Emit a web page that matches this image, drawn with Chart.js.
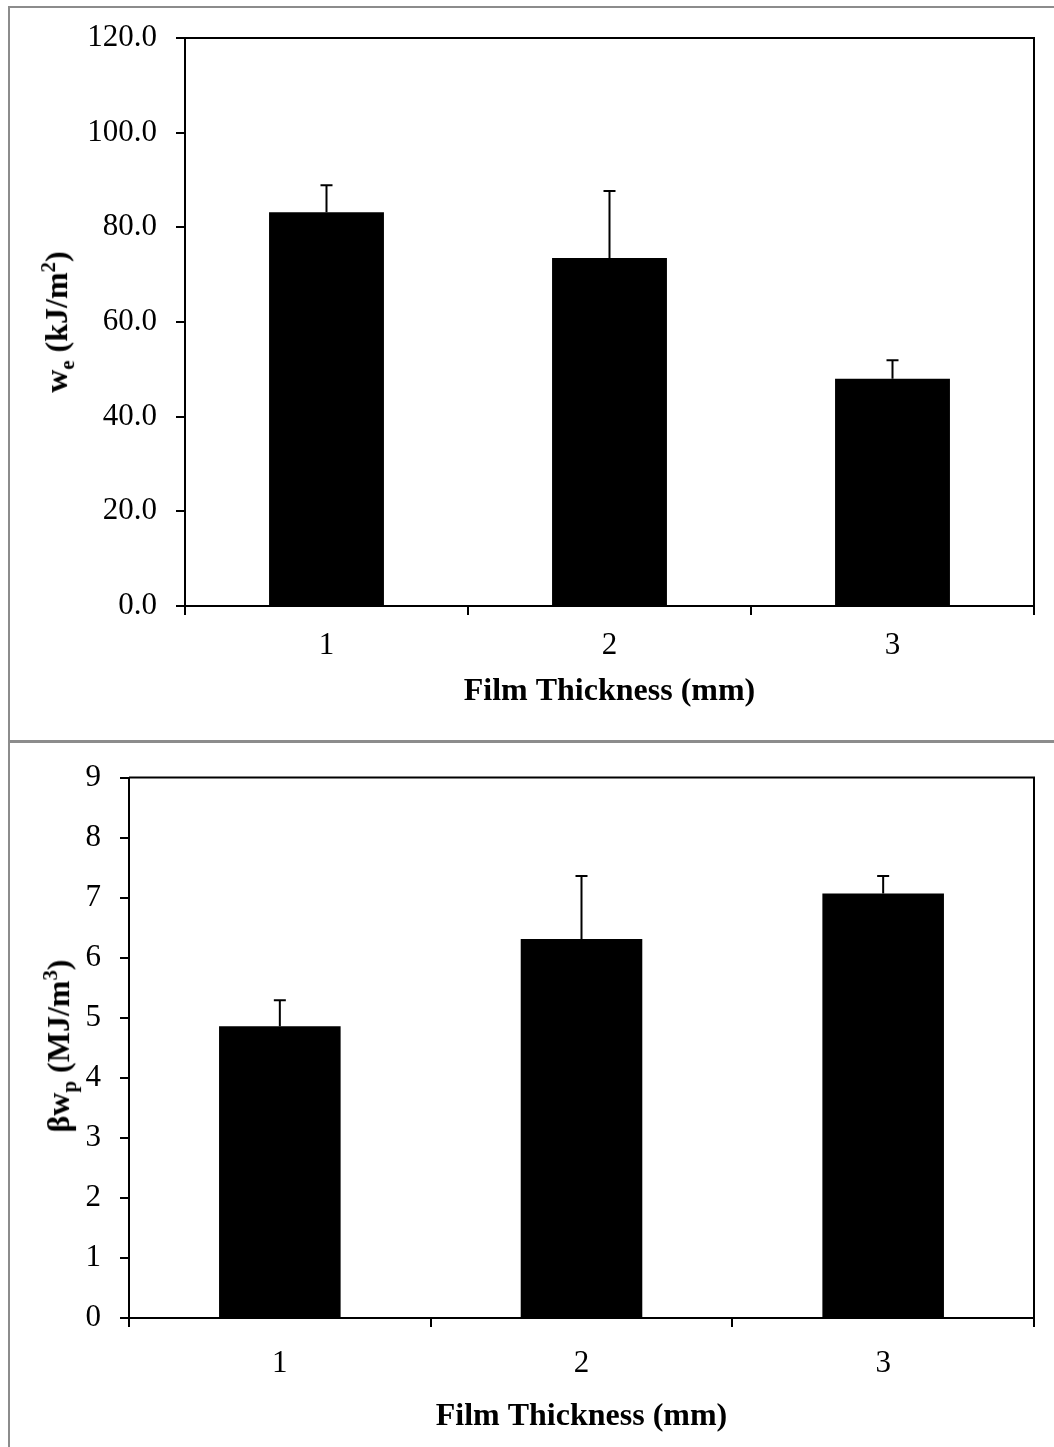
<!DOCTYPE html>
<html>
<head>
<meta charset="utf-8">
<script src="https://cdn.jsdelivr.net/npm/chart.js@4.4.1/dist/chart.umd.min.js"></script>
<style>
  html, body { margin: 0; padding: 0; background: #fff; }
  #page { position: relative; width: 1054px; height: 1447px; overflow: hidden; font-family: "Liberation Serif", "Times New Roman", serif; }
  canvas { position: absolute; left: 0; }
  #chartWe { top: 0; }
  #chartBwp { top: 740px; }
  .line { position: absolute; background: #8c8c8c; }
  .ytitle { position: absolute; font-weight: bold; font-size: 32px; line-height: 1; white-space: nowrap; color: #000;
            transform: translate(-50%, -50%) rotate(-90deg); }
  .ytitle sub, .ytitle sup { font-size: 65%; }
</style>
</head>
<body>
<div id="page">
  <canvas id="chartWe" width="1054" height="740"></canvas>
  <canvas id="chartBwp" width="1054" height="707"></canvas>

  <!-- marcos grises -->
  <div class="line" style="left:8px; top:6px; width:2px; height:1441px;"></div>
  <div class="line" style="left:8px; top:6px; width:1046px; height:2px;"></div>
  <div class="line" style="left:8px; top:740px; width:1046px; height:3px;"></div>

  <div class="ytitle" style="left:58px; top:322px;">w<sub>e</sub> (kJ/m<sup>2</sup>)</div>
  <div class="ytitle" style="left:60px; top:1046px;">βw<sub>p</sub> (MJ/m<sup>3</sup>)</div>
</div>

<script>
// datos
const thicknessLabels = ["1", "2", "3"];
const weValues  = [83.2, 73.5, 48.0];
const weErrors  = [5.7, 14.2, 3.9];
const bwpValues = [4.86, 6.31, 7.07];
const bwpErrors = [0.43, 1.05, 0.29];
const weAxis  = { min: 0, max: 120, step: 20 };
const bwpAxis = { min: 0, max: 9, step: 1 };
const xTitle = "Film Thickness (mm)";

const FONT = "'Liberation Serif', 'Times New Roman', serif";

// marco superior y derecho del area
const framePlugin = {
    id: "frame",
    afterDraw(chart) {
        const { ctx, chartArea: a } = chart;
        ctx.save();
        ctx.strokeStyle = "#000";
        ctx.lineWidth = 2;
        ctx.beginPath();
        ctx.moveTo(a.left, a.top);
        ctx.lineTo(a.right, a.top);
        ctx.lineTo(a.right, a.bottom);
        ctx.stroke();
        ctx.restore();
    }
};

// barras de error (solo hacia arriba)
const errorPlugin = {
    id: "errorBars",
    afterDatasetsDraw(chart, args, opts) {
        const { ctx } = chart;
        const y = chart.scales.y;
        const meta = chart.getDatasetMeta(0);
        const vals = chart.data.datasets[0].data;
        ctx.save();
        ctx.strokeStyle = "#000";
        ctx.lineWidth = 2;
        meta.data.forEach((bar, i) => {
            const yTop = y.getPixelForValue(vals[i] + opts.errors[i]);
            const yBar = y.getPixelForValue(vals[i]);
            ctx.beginPath();
            ctx.moveTo(bar.x, yBar);
            ctx.lineTo(bar.x, yTop);
            ctx.moveTo(bar.x - 6, yTop);
            ctx.lineTo(bar.x + 6, yTop);
            ctx.stroke();
        });
        ctx.restore();
    }
};

function makeChart(id, values, errors, axis, cfg) {
    return new Chart(document.getElementById(id), {
        type: "bar",
        data: {
            labels: thicknessLabels,
            datasets: [{
                data: values,
                backgroundColor: "#000",
                borderWidth: 0,
                categoryPercentage: 1,
                barPercentage: cfg.barPct
            }]
        },
        options: {
            responsive: false,
            animation: false,
            devicePixelRatio: 1,
            layout: { padding: cfg.padding },
            plugins: {
                legend: { display: false },
                tooltip: { enabled: false },
                errorBars: { errors: errors }
            },
            scales: {
                x: {
                    offset: true,
                    grid: { offset: true, drawOnChartArea: false, drawTicks: true, tickLength: 9, color: "#000", lineWidth: 2 },
                    border: { color: "#000", width: 2 },
                    ticks: { color: "#000", padding: cfg.xPad, font: { family: FONT, size: 31 } },
                    title: { display: true, text: xTitle, color: "#000", padding: 0,
                             font: { family: FONT, size: 32, weight: "bold" } },
                    afterFit: s => { s.height = cfg.xHeight; }
                },
                y: {
                    min: axis.min,
                    max: axis.max,
                    grid: { drawOnChartArea: false, drawTicks: true, tickLength: 9, color: "#000", lineWidth: 2 },
                    border: { color: "#000", width: 2 },
                    ticks: {
                        stepSize: axis.step,
                        color: "#000",
                        padding: 19,
                        font: { family: FONT, size: 31 },
                        callback: v => cfg.decimals ? v.toFixed(cfg.decimals) : String(v)
                    },
                    afterFit: s => { s.width = cfg.yWidth; }
                }
            }
        },
        plugins: [framePlugin, errorPlugin]
    });
}

makeChart("chartWe", weValues, weErrors, weAxis, {
    barPct: 0.406, padding: { left: 0, top: 38, right: 20, bottom: 29 },
    xHeight: 105, xPad: 12, yWidth: 185, decimals: 1
});

makeChart("chartBwp", bwpValues, bwpErrors, bwpAxis, {
    barPct: 0.403, padding: { left: 0, top: 33, right: 20, bottom: 11 },
    xHeight: 118, xPad: 18, yWidth: 129, decimals: 0
});
</script>
</body>
</html>
